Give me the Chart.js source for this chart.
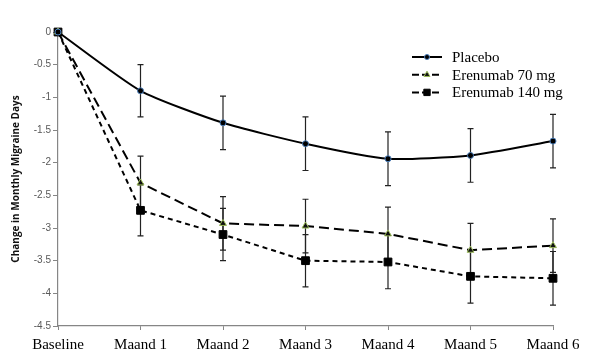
<!DOCTYPE html>
<html>
<head>
<meta charset="utf-8">
<script src="https://cdn.jsdelivr.net/npm/chart.js@4.4.0/dist/chart.umd.min.js"></script>
<style>
  html, body { margin: 0; padding: 0; background: #fff; }
  #wrap { width: 605px; height: 363px; }
</style>
</head>
<body>
<div id="wrap"><canvas id="chart" width="605" height="363"></canvas></div>
<script>
'use strict';

let months = ['Baseline', 'Maand 1', 'Maand 2', 'Maand 3', 'Maand 4', 'Maand 5', 'Maand 6'];

let placeboValues = [0, -0.90, -1.39, -1.71, -1.94, -1.89, -1.67];
let placeboErr = [0, 0.40, 0.41, 0.41, 0.41, 0.41, 0.41];

let erenumab70Values = [0, -2.31, -2.93, -2.97, -3.09, -3.34, -3.27];
let erenumab70Err = [0, 0.41, 0.41, 0.41, 0.41, 0.41, 0.41];

let erenumab140Values = [0, -2.73, -3.10, -3.50, -3.52, -3.74, -3.77];
let erenumab140Err = [0, 0.39, 0.40, 0.40, 0.41, 0.41, 0.41];

let seriesNames = ['Placebo', 'Erenumab 70 mg', 'Erenumab 140 mg'];
let errArrays = [placeboErr, erenumab70Err, erenumab140Err];

let axisGray = '#868686';

// error bars drawn from the y scale, behind the markers
let errorBars = {
    id: 'errorBars',
    beforeDatasetsDraw(chart) {
        let ctx = chart.ctx;
        let yScale = chart.scales.y;
        ctx.save();
        ctx.strokeStyle = '#222';
        ctx.lineWidth = 1.2;
        for (let d = 0; d < chart.data.datasets.length; d++) {
            let meta = chart.getDatasetMeta(d);
            let values = chart.data.datasets[d].data;
            for (let i = 0; i < values.length; i++) {
                let err = errArrays[d][i];
                if (!err) continue;
                let x = meta.data[i].x;
                let yTop = yScale.getPixelForValue(values[i] + err);
                let yBot = yScale.getPixelForValue(values[i] - err);
                ctx.beginPath();
                ctx.moveTo(x, yTop);
                ctx.lineTo(x, yBot);
                ctx.moveTo(x - 3, yTop);
                ctx.lineTo(x + 3, yTop);
                ctx.moveTo(x - 3, yBot);
                ctx.lineTo(x + 3, yBot);
                ctx.stroke();
            }
        }
        ctx.restore();
    }
};

// legend with line + marker samples
let lineLegend = {
    id: 'lineLegend',
    afterDraw(chart) {
        let ctx = chart.ctx;
        let x0 = 412;
        let x1 = 442;
        let y = 57;
        let sampleRadius = [2.5, 3.5, 4.5];
        ctx.save();
        for (let d = 0; d < chart.data.datasets.length; d++) {
            let ds = chart.data.datasets[d];
            ctx.strokeStyle = ds.borderColor;
            ctx.lineWidth = ds.borderWidth;
            ctx.setLineDash(d === 0 ? [] : [7, 3]);
            ctx.beginPath();
            ctx.moveTo(x0, y);
            ctx.lineTo(x1, y);
            ctx.stroke();
            ctx.setLineDash([]);
            ctx.fillStyle = ds.pointBackgroundColor;
            ctx.strokeStyle = ds.pointBorderColor;
            ctx.lineWidth = ds.pointBorderWidth;
            Chart.helpers.drawPoint(ctx, {
                pointStyle: ds.pointStyle,
                rotation: 0,
                radius: sampleRadius[d],
                borderWidth: ds.pointBorderWidth
            }, (x0 + x1) / 2, y);
            ctx.fillStyle = '#000';
            ctx.font = '15px "Liberation Serif"';
            ctx.textBaseline = 'middle';
            ctx.textAlign = 'left';
            ctx.fillText(seriesNames[d], 452, y + 1);
            y += 17.7;
        }
        ctx.restore();
    }
};

let ctx = document.getElementById('chart').getContext('2d');
let chartOfResult = new Chart(ctx, {
    type: 'line',
    data: {
        labels: months,
        datasets: [{
            label: seriesNames[0],
            data: placeboValues,
            clip: false,
            borderColor: '#000',
            borderWidth: 2,
            tension: 0.2,
            pointStyle: 'circle',
            pointRadius: 3,
            pointBackgroundColor: '#000',
            pointBorderColor: '#4a7ebb',
            pointBorderWidth: 1
        }, {
            label: seriesNames[1],
            data: erenumab70Values,
            clip: false,
            borderColor: '#000',
            borderWidth: 2,
            borderDash: [10, 5],
            tension: 0,
            pointStyle: 'triangle',
            pointRadius: 4,
            pointBackgroundColor: '#111',
            pointBorderColor: '#9bbb59',
            pointBorderWidth: 1
        }, {
            label: seriesNames[2],
            data: erenumab140Values,
            clip: false,
            borderColor: '#000',
            borderWidth: 2,
            borderDash: [5, 4],
            tension: 0,
            pointStyle: 'rect',
            pointRadius: 5.5,
            pointBackgroundColor: '#000',
            pointBorderColor: '#000',
            pointBorderWidth: 1
        }]
    },
    options: {
        responsive: false,
        animation: false,
        layout: { padding: { top: 32, right: 52, left: 0, bottom: 0 } },
        plugins: {
            legend: { display: false },
            tooltip: { enabled: false }
        },
        scales: {
            x: {
                offset: false,
                grid: {
                    display: true,
                    drawOnChartArea: false,
                    color: axisGray,
                    tickLength: 4
                },
                border: { color: axisGray, width: 1.2 },
                ticks: {
                    color: '#000',
                    font: { family: '"Liberation Serif"', size: 15 },
                    padding: 6,
                    maxRotation: 0
                },
                afterFit(scale) { scale.height = 37; }
            },
            y: {
                min: -4.5,
                max: 0,
                grid: {
                    display: true,
                    drawOnChartArea: false,
                    color: axisGray,
                    tickLength: 5
                },
                border: { color: axisGray, width: 1.2 },
                ticks: {
                    stepSize: 0.5,
                    color: '#595959',
                    padding: 2,
                    font: { family: '"Liberation Sans"', size: 10 },
                    callback: (v) => String(v)
                },
                title: {
                    display: true,
                    text: 'Change in Monthly Migraine Days',
                    color: '#111',
                    font: { family: '"Open Sans"', size: 10, weight: '700' },
                    padding: { top: 10, bottom: 0 }
                },
                afterFit(scale) { scale.width = 58; }
            }
        }
    },
    plugins: [errorBars, lineLegend]
});
</script>
</body>
</html>
